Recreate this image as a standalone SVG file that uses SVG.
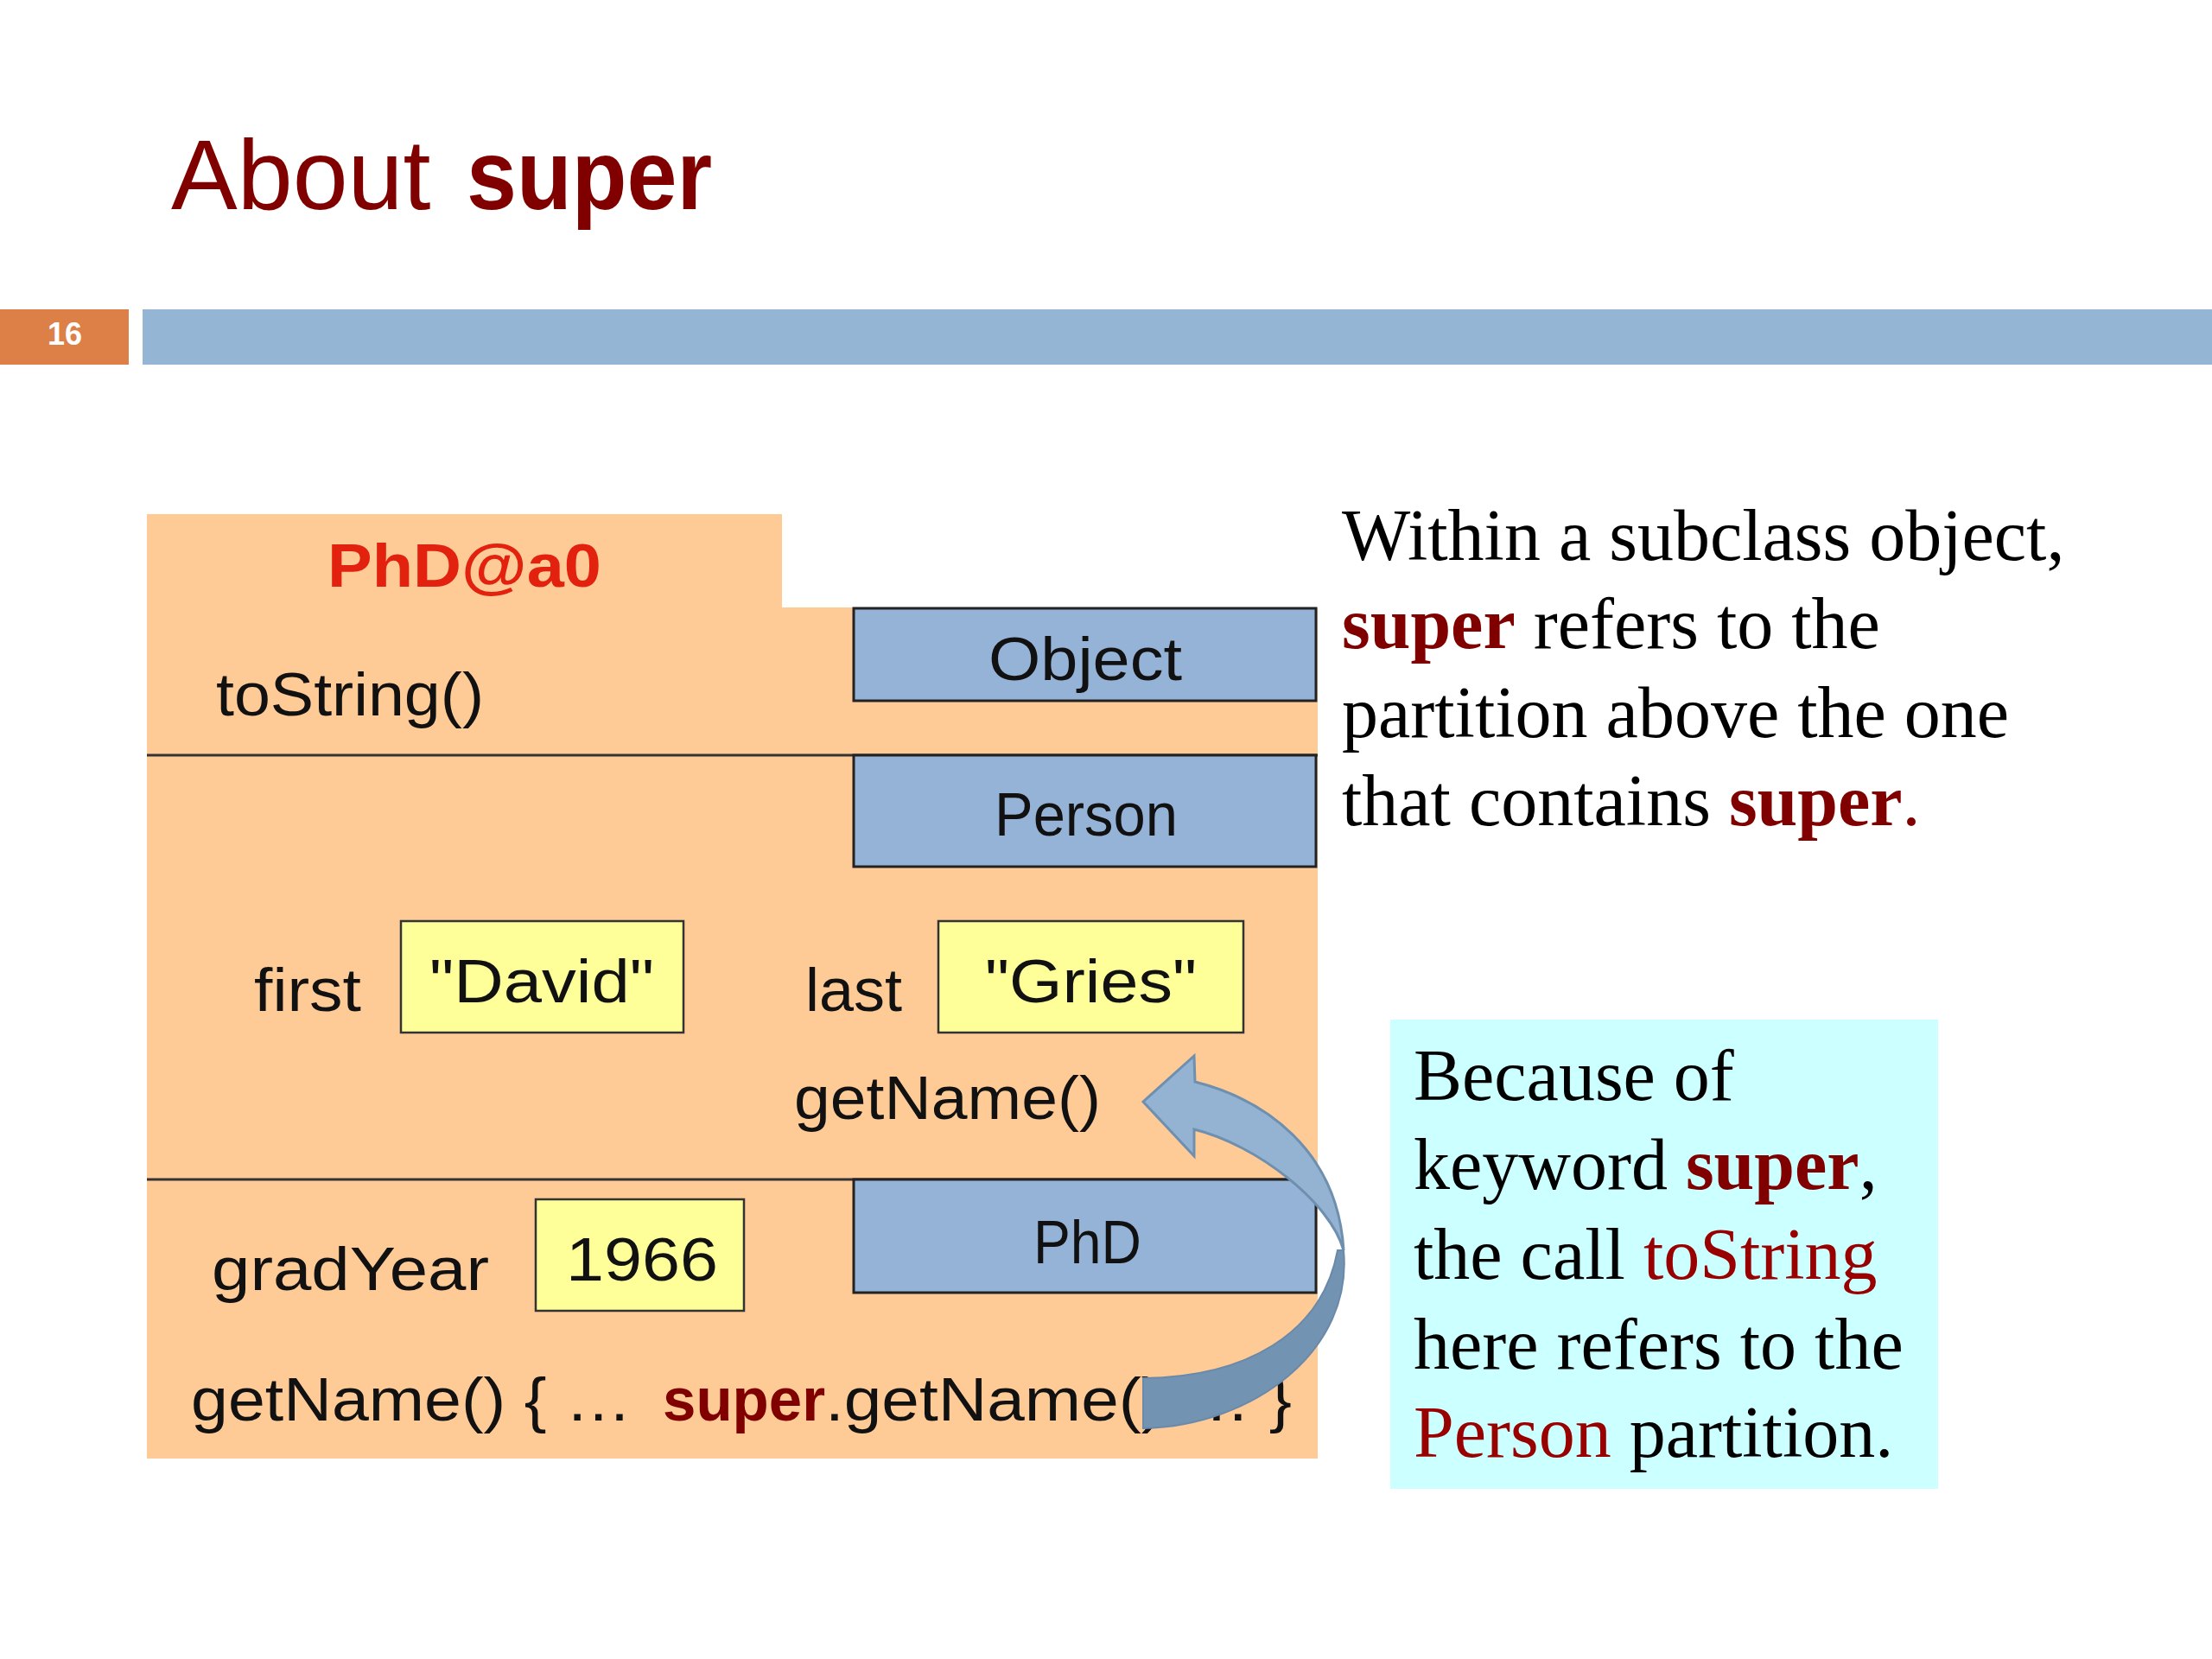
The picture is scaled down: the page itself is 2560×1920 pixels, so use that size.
<svg xmlns="http://www.w3.org/2000/svg" width="2560" height="1920" viewBox="0 0 2560 1920">
<style>
.sans{font-family:"Liberation Sans",Arial,sans-serif;}
.serif{font-family:"Liberation Serif","Times New Roman",serif;font-size:84px;fill:#000;}
.lbl{font-family:"Liberation Sans",Arial,sans-serif;font-size:70px;fill:#111;}
.cls{fill:#95B3D7;stroke:#222;stroke-width:3;}
.val{fill:#FFFF99;stroke:#333;stroke-width:2.5;}
.div{stroke:#333;stroke-width:3;}
.kw{font-weight:bold;fill:#800000;}
.red{fill:#990000;}
</style>
<rect width="2560" height="1920" fill="#fff"/>
<g id="title">
<text class="sans" x="198" y="242" font-size="115" fill="#800000">About</text>
<text class="sans" x="540" y="242" font-size="115" font-weight="bold" fill="#800000" textLength="284" lengthAdjust="spacingAndGlyphs">super</text>
</g>
<g id="header-bar">
<rect x="0" y="358" width="149" height="64" fill="#DD8047"/>
<text class="sans" x="75" y="399" font-size="36" font-weight="bold" fill="#fff" text-anchor="middle">16</text>
<rect x="165" y="358" width="2395" height="64" fill="#94B6D4"/>
</g>
<g id="object-PhD">
<path d="M170 595 H905 V703 H1525 V1688 H170 Z" fill="#FECB97"/>
<line class="div" x1="170" y1="874" x2="1525" y2="874"/>
<line class="div" x1="170" y1="1365" x2="1525" y2="1365"/>
<text class="sans" x="379" y="679" font-size="70" font-weight="bold" fill="#E2220E" textLength="317" lengthAdjust="spacingAndGlyphs">PhD@a0</text>
<text class="lbl" x="250" y="828" textLength="310" lengthAdjust="spacingAndGlyphs">toString()</text>
</g>
<g id="class-Object">
<rect class="cls" x="988" y="704" width="535" height="107"/>
<text class="lbl" x="1144" y="787" textLength="224" lengthAdjust="spacingAndGlyphs">Object</text>
</g>
<g id="class-Person">
<rect class="cls" x="988" y="874" width="535" height="129"/>
<text class="lbl" x="1151" y="967" textLength="212" lengthAdjust="spacingAndGlyphs">Person</text>
</g>
<g id="field-first">
<text class="lbl" x="294" y="1170" textLength="124" lengthAdjust="spacingAndGlyphs">first</text>
<rect class="val" x="464" y="1066" width="327" height="129"/>
<text class="lbl" x="497" y="1160" textLength="260" lengthAdjust="spacingAndGlyphs">"David"</text>
</g>
<g id="field-last">
<text class="lbl" x="932" y="1170" textLength="112" lengthAdjust="spacingAndGlyphs">last</text>
<rect class="val" x="1086" y="1066" width="353" height="129"/>
<text class="lbl" x="1140" y="1160" textLength="245" lengthAdjust="spacingAndGlyphs">"Gries"</text>
</g>
<g id="method-person-getName">
<text class="lbl" x="919" y="1295" textLength="355" lengthAdjust="spacingAndGlyphs">getName()</text>
</g>
<g id="class-PhD">
<rect class="cls" x="988" y="1365" width="535" height="131"/>
<text class="lbl" x="1196" y="1462" textLength="125" lengthAdjust="spacingAndGlyphs">PhD</text>
</g>
<g id="field-gradYear">
<text class="lbl" x="245" y="1493" textLength="321" lengthAdjust="spacingAndGlyphs">gradYear</text>
<rect class="val" x="620" y="1388" width="241" height="129"/>
<text class="lbl" x="655" y="1482" textLength="176" lengthAdjust="spacingAndGlyphs">1966</text>
</g>
<g id="method-phd-getName">
<text class="lbl" x="221" y="1644" textLength="510" lengthAdjust="spacingAndGlyphs">getName() { …</text>
<text class="lbl kw" x="767" y="1644" textLength="188" lengthAdjust="spacingAndGlyphs">super</text>
<text class="lbl" x="955" y="1644" textLength="540" lengthAdjust="spacingAndGlyphs">.getName() … }</text>
</g>
<g id="connectors">
<path d="M1555 1447 C1566 1562 1452 1650 1323 1653 L1323 1595 C1440 1594 1530 1545 1548 1447 Z" fill="#7393B3" stroke="#6B8AAA" stroke-width="2"/>
<path d="M1323 1275 L1382 1222 L1383 1252 C1462 1272 1548 1330 1555 1447 C1540 1392 1455 1325 1382 1307 L1382 1338 Z" fill="#94B3D3" stroke="#6F8FAF" stroke-width="3" stroke-linejoin="miter"/>
</g>
<g id="note-super">
<text class="serif" x="1553" y="648">Within a subclass object,</text>
<text class="serif" x="1553" y="750"><tspan class="kw">super</tspan> refers to the</text>
<text class="serif" x="1553" y="853">partition above the one</text>
<text class="serif" x="1553" y="955">that contains <tspan class="kw">super</tspan><tspan fill="#800000">.</tspan></text>
</g>
<g id="note-because">
<rect x="1609" y="1180" width="634" height="543" fill="#CCFFFF"/>
<text class="serif" x="1636" y="1273">Because of</text>
<text class="serif" x="1636" y="1376">keyword <tspan class="kw">super</tspan>,</text>
<text class="serif" x="1636" y="1480">the call <tspan class="red">toString</tspan></text>
<text class="serif" x="1636" y="1584">here refers to the</text>
<text class="serif" x="1636" y="1686"><tspan class="red">Person</tspan> partition.</text>
</g>
</svg>
